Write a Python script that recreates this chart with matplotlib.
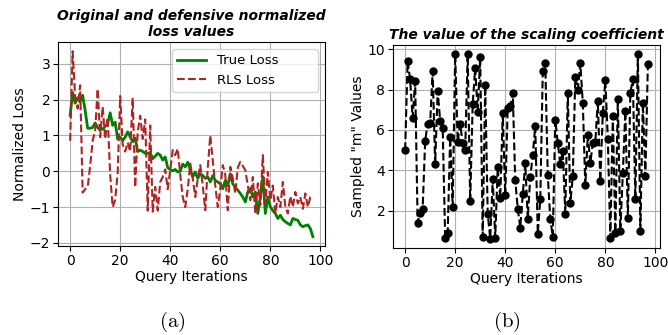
import matplotlib
matplotlib.use("Agg")
import matplotlib.pyplot as plt
import numpy as np

# ---------------- data ----------------
iterations = list(range(98))

true_loss = [1.56, 2.2, 1.9, 2.05, 1.93, 2.12, 1.7, 1.2, 1.2, 1.22,
             1.35, 1.22, 1.15, 1.18, 1.25, 1.33, 1.63, 1.28, 1.37, 0.9,
             0.95, 0.86, 0.95, 1.1, 0.96, 0.82, 0.92, 0.55, 0.59, 0.55,
             0.5, 0.5, 0.52, 0.35, 0.42, 0.5, 0.45, 0.31, 0.4, 0.1,
             0.05, 0.01, 0.05, -0.02, 0.0, 0.2, 0.12, 0.25, 0.05, -0.16,
             -0.02, -0.2, -0.07, -0.12, -0.2, -0.16, -0.3, -0.12, -0.26, -0.3,
             -0.35, -0.49, -0.26, -0.4, -0.07, -0.35, -0.45, -0.53, -0.62, -0.72,
             -0.86, -0.58, -0.48, -0.72, -0.58, -1.18, -0.72, -0.15, -1.18, -0.72,
             -0.99, -1.1, -1.18, -1.32, -1.23, -1.35, -1.41, -1.46, -1.5, -1.32,
             -1.35, -1.37, -1.5, -1.55, -1.52, -1.5, -1.6, -1.83]

rls_loss = [0.85, 3.35, 2.1, 1.75, 2.4, -0.6, -0.5, -0.45, 0.15, 0.85,
            1.15, 2.3, 0.95, 1.8, 0.9, 1.5, -0.1, -1.0, -0.8, -0.05,
            2.1, 0.75, 0.55, 0.8, 0.55, 2.05, -0.45, 1.1, 1.55, 0.9,
            1.45, -1.1, 1.28, -1.13, -0.44, -1.1, -0.3, -0.16, 0.05, -0.5,
            0.03, 0.59, 0.45, 0.63, -0.1, -0.72, -1.0, -0.5, 0.21, -0.2,
            -0.72, -0.2, 0.17, -0.4, -1.09, 0.1, 1.0, 0.3, -0.4, -1.0,
            -0.5, 0.17, -0.1, -1.09, 0.12, -0.2, -0.62, 0.1, 0.26, 0.15,
            0.03, -0.4, -0.81, -0.16, -1.18, -0.34, -0.95, 0.45, -0.9, -0.02,
            -0.81, -0.4, -1.18, -0.72, -1.0, -0.3, -1.0, -1.18, -0.7, -1.0,
            -0.58, -0.9, -0.72, -1.05, -0.62, -1.0, -0.72, -0.67]

m_values = [5.0, 9.4, 8.5, 6.6, 8.4, 1.4, 1.9, 2.1, 5.45, 6.3,
            6.35, 8.9, 4.3, 7.95, 6.45, 6.1, 0.65, 0.9, 5.65, 2.2,
            9.75, 5.4, 6.3, 5.35, 5.0, 9.75, 2.45, 7.3, 9.05, 6.9,
            9.6, 0.7, 8.2, 1.85, 0.6, 3.55, 0.65, 4.15, 2.6, 6.85,
            2.75, 7.1, 7.2, 7.85, 3.5, 2.1, 1.15, 2.8, 4.35, 1.6,
            3.65, 4.75, 6.2, 0.85, 2.55, 8.9, 9.3, 3.75, 1.6, 0.7,
            6.5, 5.35, 4.3, 4.95, 1.85, 7.85, 2.35, 3.7, 8.6, 8.0,
            9.3, 7.35, 3.25, 5.75, 4.35, 5.35, 5.4, 7.45, 3.45, 6.85,
            8.45, 5.55, 0.65, 6.7, 0.9, 7.55, 1.0, 3.85, 6.95, 1.65,
            7.85, 8.5, 2.55, 9.75, 1.0, 7.35, 3.7, 9.25]

# ---------------- figure ----------------
plt.rcParams['font.family'] = ['DejaVu Sans']
plt.rcParams['mathtext.fontset'] = 'cm'

fig = plt.figure(figsize=(6.68, 3.35), dpi=100)
W, H = 668, 335

def add_ax(x0, y0, x1, y1):
    return fig.add_axes([x0 / W, 1 - y1 / H, (x1 - x0) / W, (y1 - y0) / H])

ax1 = add_ax(58, 42, 325, 246)
ax2 = add_ax(393, 45, 660, 248)

# Left panel
ax1.plot(iterations, true_loss, color='green', linewidth=2, label='True Loss')
ax1.plot(iterations, rls_loss, color='firebrick', linestyle='--', linewidth=1.5,
         label='RLS Loss')
ax1.set_title('Original and defensive normalized\nloss values',
              fontweight='bold', fontstyle='italic', fontsize=10, pad=4)
ax1.set_xlabel('Query Iterations', fontsize=10, labelpad=2)
ax1.set_ylabel('Normalized Loss', fontsize=10, labelpad=2)
ax1.set_xticks([0, 20, 40, 60, 80, 100])
ax1.set_yticks([-2, -1, 0, 1, 2, 3])
ax1.grid(True)
ax1.legend(loc='upper left', bbox_to_anchor=(0.427, 0.0, 0.547, 0.966),
           mode='expand', borderaxespad=0, fontsize=9.5, handlelength=2.2)
ax1.tick_params(labelsize=10, pad=2)

# Right panel
ax2.plot(iterations, m_values, 'k--o', markersize=5, linewidth=1.5)
ax2.set_title('The value of the scaling coefficient',
              fontweight='bold', fontstyle='italic', fontsize=10, pad=4)
ax2.set_xlabel('Query Iterations', fontsize=10, labelpad=2)
ax2.set_ylabel('Sampled "m" Values', fontsize=10, labelpad=2)
ax2.set_xticks([0, 20, 40, 60, 80, 100])
ax2.set_yticks([2, 4, 6, 8, 10])
ax2.grid(True)
ax2.tick_params(labelsize=10, pad=2)

fig.text(172 / W, 1 - 322 / H, r'$\mathrm{(a)}$', fontsize=15, ha='center', va='center')
fig.text(507 / W, 1 - 322 / H, r'$\mathrm{(b)}$', fontsize=15, ha='center', va='center')

fig.savefig('out.png', dpi=100)
